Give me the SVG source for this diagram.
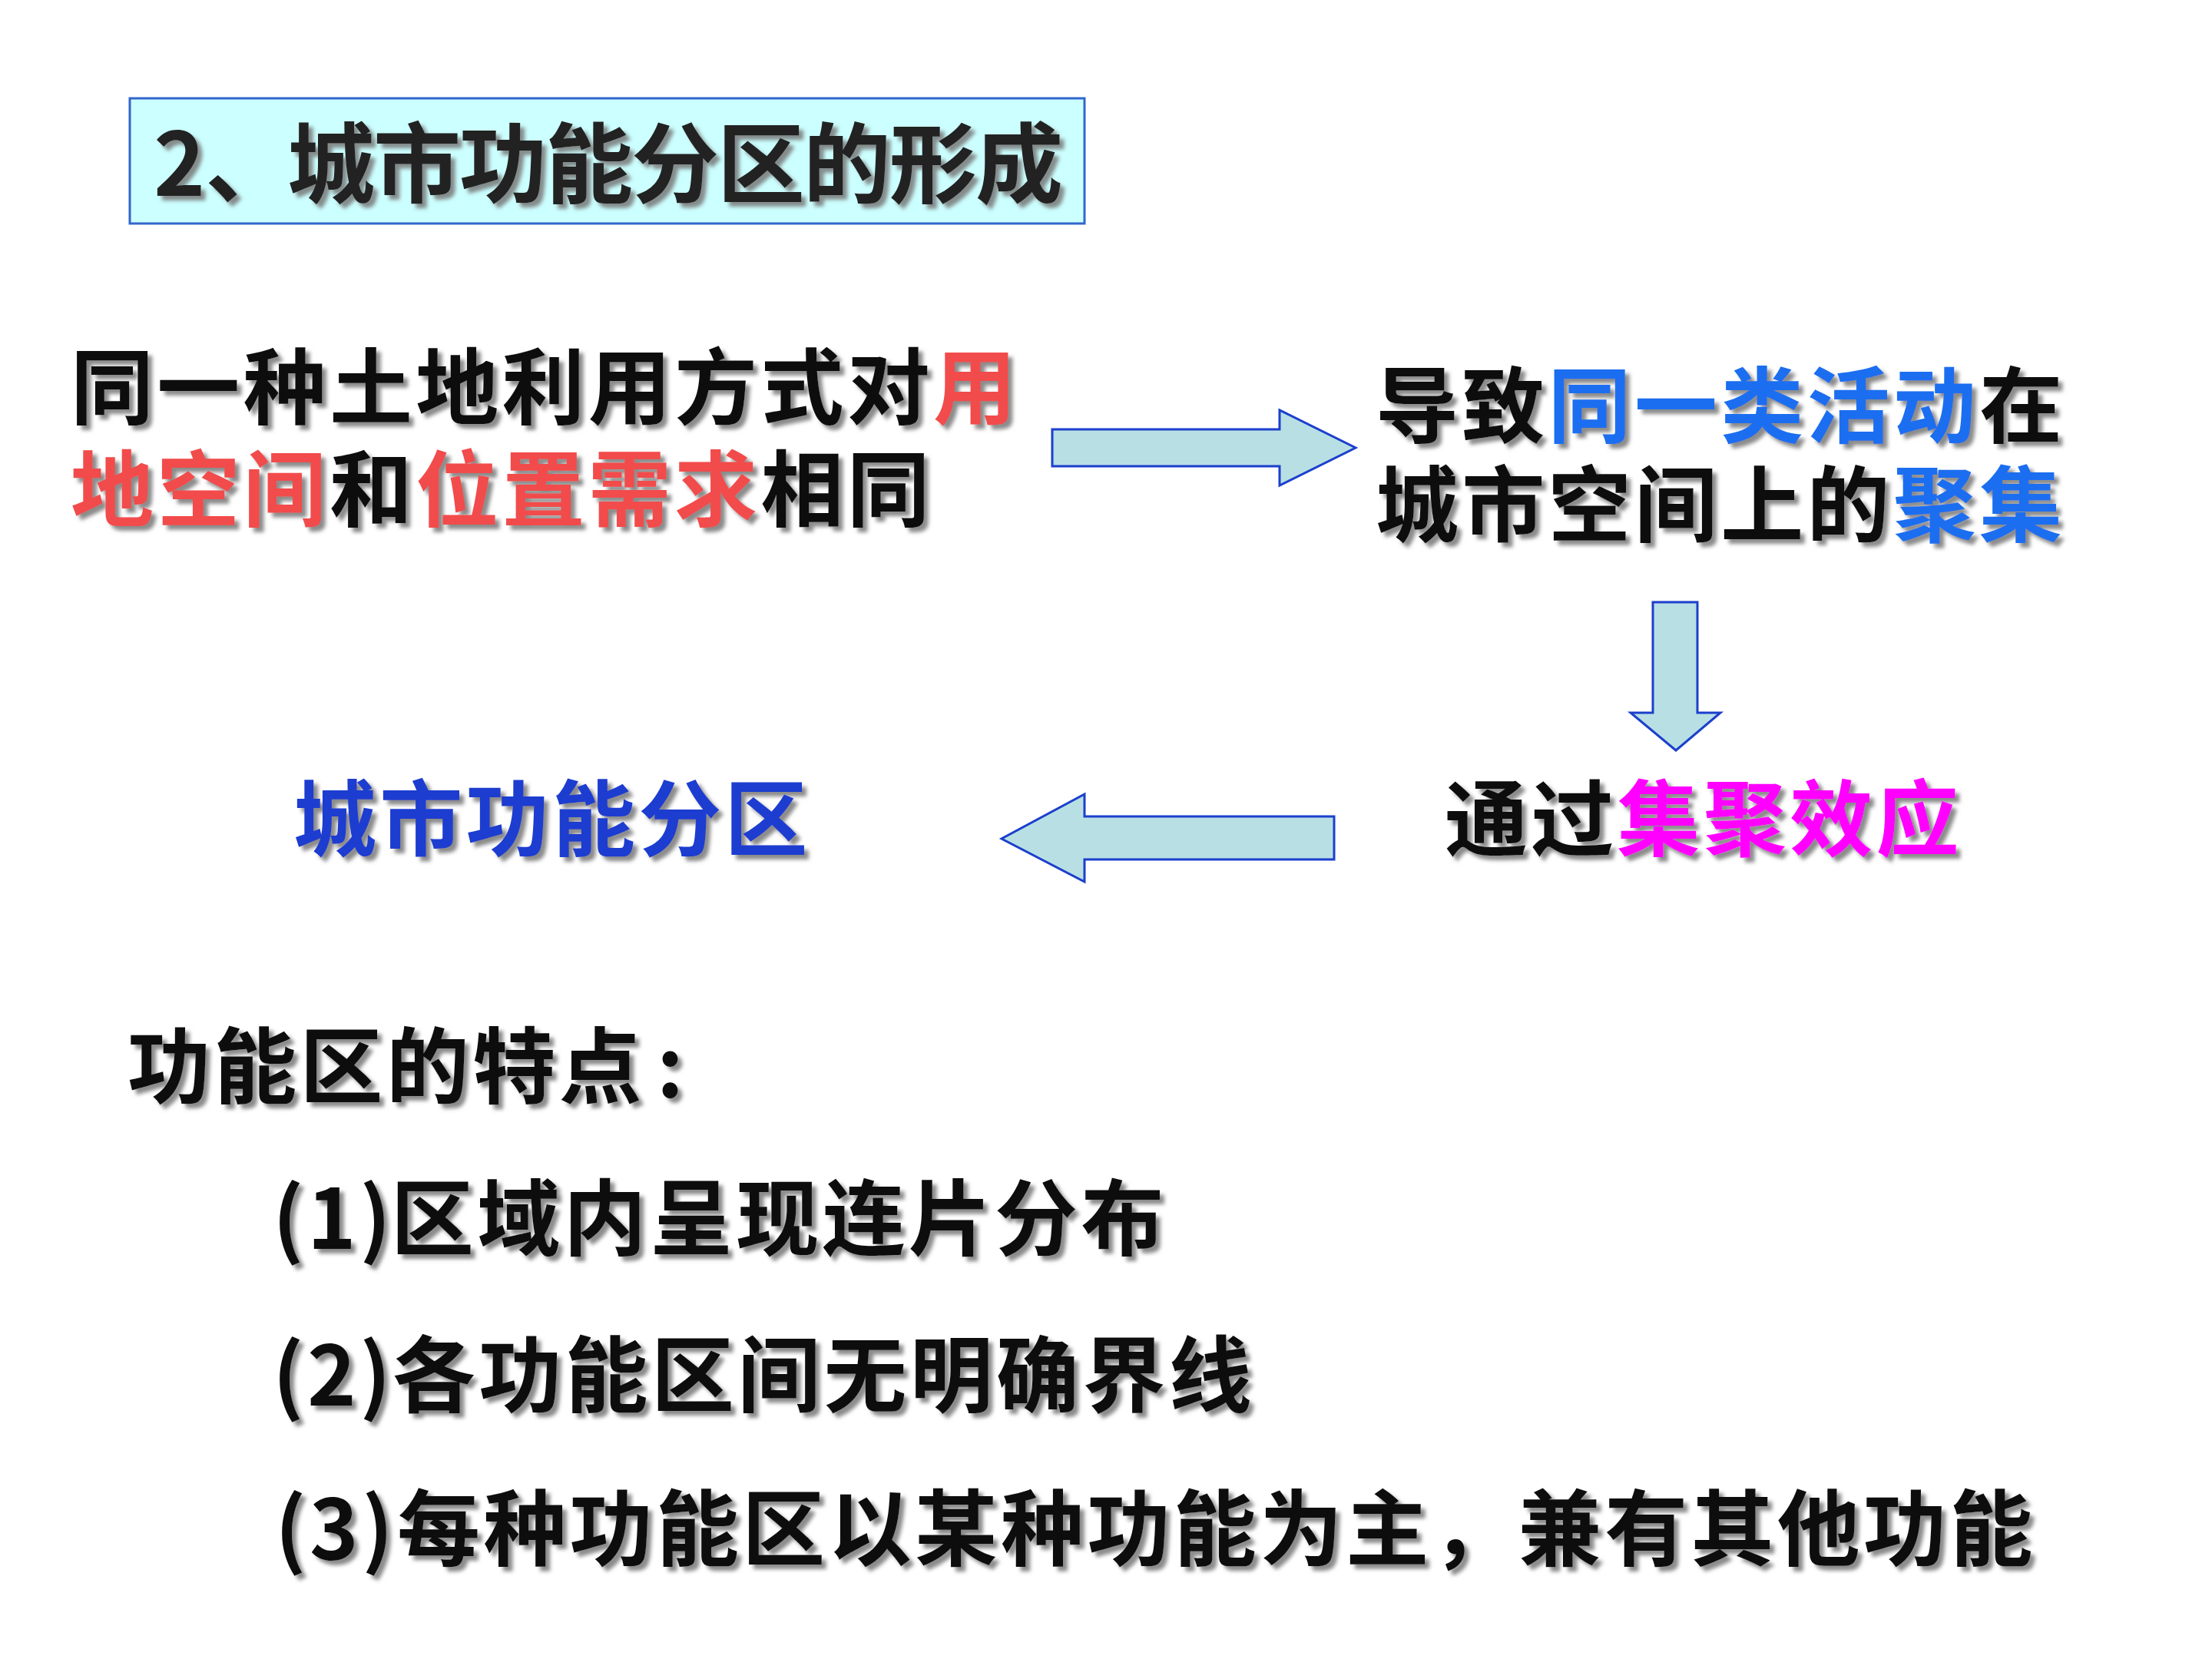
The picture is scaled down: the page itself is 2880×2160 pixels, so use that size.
<svg xmlns="http://www.w3.org/2000/svg" width="2880" height="2160" viewBox="0 0 2880 2160">
<defs>
<filter id="sh" x="-5%" y="-20%" width="115%" height="150%">
<feDropShadow dx="6" dy="6" stdDeviation="2.5" flood-color="#777" flood-opacity="0.85"/>
</filter>
<style>
text{font-family:"Noto Sans CJK SC","Noto Sans",sans-serif;font-weight:700;filter:url(#sh)}
.b{font-size:108px;letter-spacing:4.3px;fill:#111}
.red{fill:#F24B4B}
.blue{fill:#1A6EF0}
.dblue{fill:#1F3DD0}
.mag{fill:#FF00FF}
.arrow{fill:#B8E0E4;stroke:#1C3FCC;stroke-width:3;stroke-linejoin:miter}
</style>
</defs>
<rect width="2880" height="2160" fill="#FFFFFF"/>
<g id="title">
<rect x="169" y="128" width="1243" height="163" fill="#CCFFFF" stroke="#3366CC" stroke-width="3"/>
<text x="200" y="255" style="font-size:114px;fill:#222">2、<tspan x="374" style="letter-spacing:-2px">城市功能分区的形成</tspan></text>
</g>
<g id="node-cause">
<text class="b" x="92" y="544">同一种土地利用方式对<tspan class="red">用</tspan></text>
<text class="b" x="92" y="677"><tspan class="red">地空间</tspan>和<tspan class="red">位置需求</tspan>相同</text>
</g>
<g id="node-gather">
<text class="b" x="1791" y="568">导致<tspan class="blue">同一类活动</tspan>在</text>
<text class="b" x="1791" y="697">城市空间上的<tspan class="blue">聚集</tspan></text>
</g>
<g id="node-effect">
<text class="b" x="1881" y="1106">通过<tspan class="mag">集聚效应</tspan></text>
</g>
<g id="node-zone">
<text class="b dblue" x="382" y="1106">城市功能分区</text>
</g>
<g id="features">
<text class="b" x="166" y="1428">功能区的特点<tspan x="855">:</tspan></text>
<text class="b" x="355" y="1626">(1)<tspan x="509">区域内呈现连片分布</tspan></text>
<text class="b" x="355" y="1830">(2)<tspan x="511">各功能区间无明确界线</tspan></text>
<text class="b" x="358" y="2030">(3)<tspan x="517">每种功能区以某种功能为主，兼有其他功能</tspan></text>
</g>
<g id="connectors">
<path class="arrow" d="M1370,559 L1666,559 L1666,534 L1765,583 L1666,632 L1666,607 L1370,607 Z"/>
<path class="arrow" d="M2152,784 L2210,784 L2210,928 L2240,928 L2182,977 L2123,928 L2152,928 Z"/>
<path class="arrow" d="M1737,1063 L1412,1063 L1412,1034 L1304,1092 L1412,1148 L1412,1119 L1737,1119 Z"/>
</g>
</svg>
